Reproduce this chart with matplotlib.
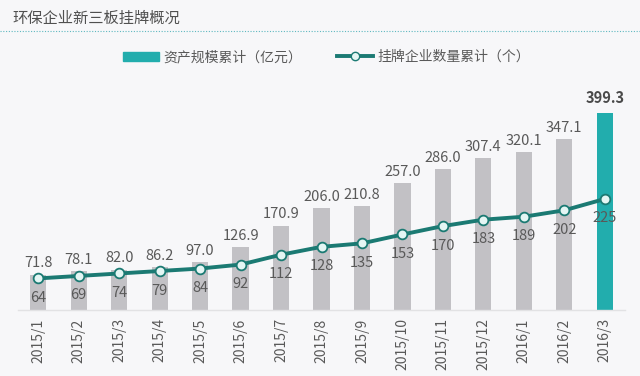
import matplotlib.pyplot as plt
from matplotlib.patches import Patch
from matplotlib.lines import Line2D

plt.rcParams['font.family'] = ['Noto Sans CJK SC', 'DejaVu Sans']

# data
months = ['2015/1', '2015/2', '2015/3', '2015/4', '2015/5', '2015/6', '2015/7',
          '2015/8', '2015/9', '2015/10', '2015/11', '2015/12', '2016/1',
          '2016/2', '2016/3']
assets = [71.8, 78.1, 82.0, 86.2, 97.0, 126.9, 170.9, 206.0, 210.8, 257.0,
          286.0, 307.4, 320.1, 347.1, 399.3]
companies = [64, 69, 74, 79, 84, 92, 112, 128, 135, 153, 170, 183, 189, 202, 225]

bg = '#f7f7f9'
gray_bar = '#c2c1c5'
teal_bar = '#22adad'
line_col = '#1b7a73'
txt = '#595959'

fig = plt.figure(figsize=(6.4, 3.76), dpi=100, facecolor=bg)

# title and dotted rule
fig.text(12 / 640, 1 - 18 / 376, '环保企业新三板挂牌概况', fontsize=11,
         color='#505050', va='center', ha='left')
fig.add_artist(Line2D([0, 1], [1 - 31 / 376] * 2, color='#5fb8c0',
                      lw=0.8, ls=(0, (1, 1.5))))

ax = fig.add_axes([18 / 640, 66 / 376, 607 / 640, 230 / 376])
ax.set_facecolor(bg)

x = list(range(len(months)))
colors = [gray_bar] * (len(months) - 1) + [teal_bar]
ax.bar(x, assets, width=0.4, color=colors, zorder=2)
ax.plot(x, companies, color=line_col, lw=2.8, marker='o', markersize=7,
        markerfacecolor='#e4f6f4', markeredgecolor=line_col,
        markeredgewidth=1.3, zorder=3)

for i, v in enumerate(assets):
    last = i == len(assets) - 1
    ax.annotate(f'{v:.1f}', (i, v), xytext=(0, 5 if last else 3),
                textcoords='offset points', ha='center', va='bottom',
                fontsize=10.5, color='#4a4a4a' if last else txt,
                fontweight='bold' if last else 'normal')

for i, v in enumerate(companies):
    ax.annotate(str(v), (i, v), xytext=(0, -9), textcoords='offset points',
                ha='center', va='top', fontsize=10.5, color=txt, zorder=4)

ax.set_xlim(-0.5, len(months) - 0.5)
ax.set_ylim(0, 466)
ax.set_xticks(x)
ax.set_xticklabels(months, rotation=90, fontsize=10, color=txt)
ax.tick_params(axis='x', length=0, pad=6)
ax.set_yticks([])
for s in ['top', 'right', 'left']:
    ax.spines[s].set_visible(False)
ax.spines['bottom'].set_color('#e2e2e4')
ax.spines['bottom'].set_linewidth(1)

handles = [Patch(color=teal_bar),
           Line2D([0], [0], color=line_col, lw=2.8, marker='o', markersize=6,
                  markerfacecolor='#e4f6f4', markeredgecolor=line_col)]
fig.legend(handles, ['资产规模累计（亿元）', '挂牌企业数量累计（个）'],
           loc='center', bbox_to_anchor=(0.51, 1 - 57 / 376), ncol=2,
           frameon=False, fontsize=10, labelcolor=txt, handlelength=2.6,
           handleheight=0.6, handletextpad=0.3, columnspacing=2.5)

fig.savefig('out.png', dpi=100, facecolor=bg)
